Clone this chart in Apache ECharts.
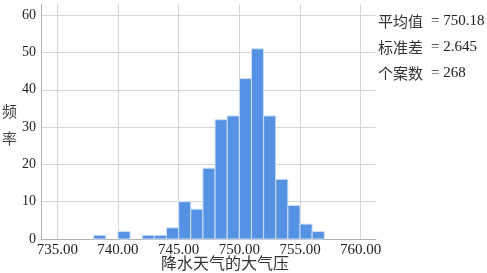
<!DOCTYPE html>
<html>
<head>
<meta charset="utf-8">
<script src="https://cdn.jsdelivr.net/npm/echarts@6/dist/echarts.min.js"></script>
<style>html,body{margin:0;padding:0;background:#fff}#c{width:487px;height:273px}</style>
</head>
<body>
<div id="c"></div>
<script>
// Histogram bins (lower edge, width 1) and frequencies
const binLower = [738, 739, 740, 741, 742, 743, 744, 745, 746, 747, 748, 749, 750, 751, 752, 753, 754, 755, 756];
const binCounts = [1, 0, 2, 0, 1, 1, 3, 10, 8, 19, 32, 33, 43, 51, 33, 16, 9, 4, 2];
const binWidth = 1;
const statLabels = ['平均值', '标准差', '个案数'];
const statValues = ['750.18', '2.645', '268'];
const xTitle = '降水天气的大气压';
const yTitle = ['频', '率'];

const chart = echarts.init(document.getElementById('c'), null, {renderer: 'canvas'});
const data = binLower.map((l, i) => [l, l + binWidth, binCounts[i]]);
const serif = "'Times New Roman', 'Liberation Serif', serif";
const cjk = "'Noto Sans CJK SC'";

const graphics = [];
statLabels.forEach((s, i) => {
  graphics.push({type: 'text', left: 378, top: 14 + i * 26,
    style: {text: s, fontFamily: cjk, fontSize: 15, fill: '#333'}});
  graphics.push({type: 'text', left: 431, top: 14 + i * 26,
    style: {text: '= ' + statValues[i], fontFamily: serif, fontSize: 15, fill: '#222'}});
});
graphics.push({type: 'text', left: 161, top: 255,
  style: {text: xTitle, fontFamily: cjk, fontSize: 16, fill: '#333'}});
yTitle.forEach((t, i) => {
  graphics.push({type: 'text', left: 2, top: 104 + i * 27,
    style: {text: t, fontFamily: cjk, fontSize: 15, fill: '#444'}});
});

chart.setOption({
  animation: false,
  grid: {left: 41, right: 111, top: 4, bottom: 34},
  xAxis: {
    type: 'value', min: 733.66, max: 761.26, minInterval: 5, maxInterval: 5,
    axisLine: {show: true, lineStyle: {color: '#b3b3b3', width: 1}},
    axisTick: {show: false},
    axisLabel: {color: '#222', fontFamily: serif, fontSize: 15, margin: 4,
      showMinLabel: false, showMaxLabel: false,
      formatter: v => v.toFixed(2)},
    splitLine: {show: true, showMinLine: false, showMaxLine: false, lineStyle: {color: '#d6d6d6', width: 1}}
  },
  yAxis: {
    type: 'value', min: 0, max: 63, interval: 10,
    axisLine: {show: true, lineStyle: {color: '#b3b3b3', width: 1}},
    axisTick: {show: false},
    axisLabel: {color: '#222', fontFamily: serif, fontSize: 14, margin: 5, showMaxLabel: false},
    splitLine: {show: true, showMinLine: false, showMaxLine: false, lineStyle: {color: '#d6d6d6', width: 1}}
  },
  series: [{
    type: 'custom',
    data: data,
    encode: {x: [0, 1], y: 2},
    renderItem: function (params, api) {
      const c = api.value(2);
      if (!c) return null;
      const p0 = api.coord([api.value(0), c]);
      const p1 = api.coord([api.value(1), 0]);
      return {
        type: 'rect',
        shape: {x: p0[0], y: p0[1], width: p1[0] - p0[0], height: p1[1] - p0[1]},
        style: {fill: '#5592e3', stroke: '#cfe0f6', lineWidth: 1}
      };
    }
  }],
  graphic: graphics
});
</script>
</body>
</html>
